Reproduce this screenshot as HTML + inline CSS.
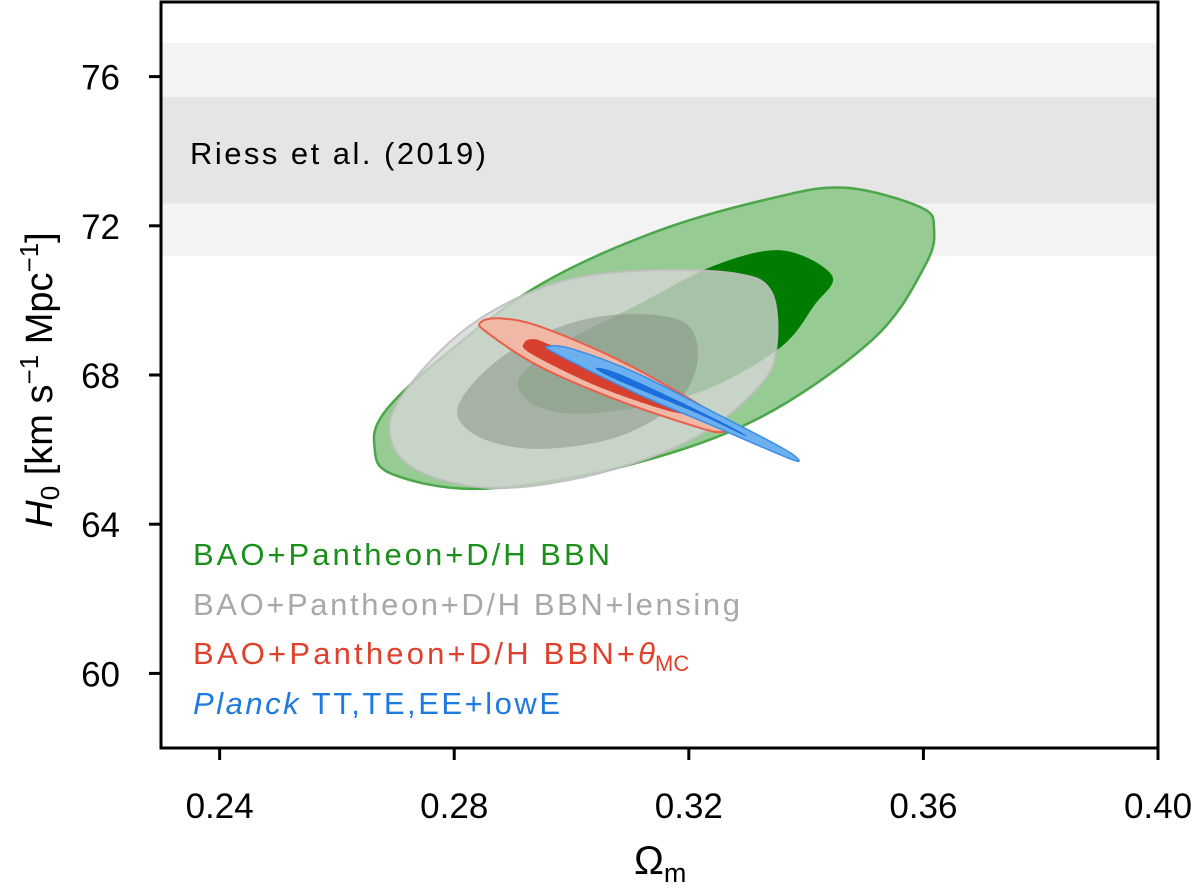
<!DOCTYPE html>
<html><head><meta charset="utf-8"><style>
body{margin:0;background:#fff;}
svg{display:block;font-family:"Liberation Sans","DejaVu Sans",sans-serif;}
</style></head><body>
<svg id="chart" width="1200" height="890" viewBox="0 0 1200 890" xmlns="http://www.w3.org/2000/svg" style="position:absolute;left:0;top:0">
<g id="bands"></g>
<g id="contours"></g>
<g id="axes"></g>
</svg>
<script>
// ---- data ----
const xTicks = [0.24, 0.28, 0.32, 0.36, 0.40];
const xTickLabels = ["0.24", "0.28", "0.32", "0.36", "0.40"];
const yTicks = [60, 64, 68, 72, 76];
const yTickLabels = ["60", "64", "68", "72", "76"];
const riessOuter = [71.2, 76.9];
const riessInner = [72.6, 75.45];

const greenOuterOm = [.2664,.2693,.2842,.3078,.3313,.3514,.3603,.3618,.3596,.3468,.3347,.3145,.2944,.2775,.2680];
const greenOuterH  = [66.07,65.35,64.95,65.51,66.79,68.96,70.94,71.93,72.49,73.02,72.76,71.85,70.40,68.42,66.98];
const greenInnerOm = [.3359,.3444,.3414,.3352,.3213,.3044,.2944,.2910,.2976,.3111,.3245];
const greenInnerH  = [71.34,70.67,69.87,68.69,67.51,66.98,67.14,67.86,68.77,69.87,70.94];
const grayOuterOm = [.2690,.2727,.2862,.3044,.3213,.3320,.3349,.3341,.3279,.3117,.2976,.2842,.2741];
const grayOuterH  = [66.69,65.54,64.97,65.35,66.34,67.70,68.69,70.22,70.72,70.80,70.48,69.49,68.05];
const grayInnerOm = [.2806,.2842,.2944,.3078,.3179,.3215,.3192,.3090,.2983,.2876];
const grayInnerH  = [67.14,66.34,66.02,66.34,67.25,68.42,69.41,69.63,69.31,68.42];
const redOuterOm = [.2845,.2855,.2944,.3078,.3213,.3255,.3262,.3213,.3078,.2944,.2876];
const redOuterH  = [69.41,69.15,68.24,67.33,66.61,66.47,66.66,67.25,68.42,69.31,69.52];
const redInnerOm = [.2920,.2930,.3044,.3172,.3186,.3078,.2962,.2937];
const redInnerH  = [68.88,68.58,67.70,67.01,67.14,68.05,68.82,68.96];
const blueOuterOm = [.2962,.2973,.3111,.3245,.3373,.3383,.3347,.3245,.3111,.3003];
const blueOuterH  = [68.77,68.58,67.51,66.61,65.75,65.80,66.15,66.98,68.05,68.69];
const blueInnerOm = [.3041,.3078,.3213,.3293,.3279,.3179,.3078];
const blueInnerH  = [68.18,67.86,66.98,66.39,66.55,67.33,68.05];

// ---- scales ----
const L=161, R=1158, T=2, B=748, XMIN=0.23, XMAX=0.40, YMIN=58, YMAX=78;
const sx = v => L + (v - XMIN) / (XMAX - XMIN) * (R - L);
const sy = v => B - (v - YMIN) / (YMAX - YMIN) * (B - T);
const NS = "http://www.w3.org/2000/svg";
function mk(tag, attrs, parent){const e=document.createElementNS(NS,tag);for(const k in attrs)e.setAttribute(k,attrs[k]);parent.appendChild(e);return e;}

const bands = document.getElementById('bands');
let b1 = mk('rect',{x:L,y:sy(riessOuter[1]),width:R-L,height:sy(riessOuter[0])-sy(riessOuter[1]),fill:'#f3f3f3'},bands);


let b2 = mk('rect',{x:L,y:sy(riessInner[1]),width:R-L,height:sy(riessInner[0])-sy(riessInner[1]),fill:'#e5e5e5'},bands);



function smoothPath(xs, ys){
  const p = xs.map((x,i)=>[sx(x), sy(ys[i])]); const n=p.length;
  let d = `M${p[0][0].toFixed(1)},${p[0][1].toFixed(1)}`;
  for(let i=0;i<n;i++){
    const p0=p[(i-1+n)%n],p1=p[i],p2=p[(i+1)%n],p3=p[(i+2)%n];
    const c1=[p1[0]+(p2[0]-p0[0])/6,p1[1]+(p2[1]-p0[1])/6];
    const c2=[p2[0]-(p3[0]-p1[0])/6,p2[1]-(p3[1]-p1[1])/6];
    d+=` C${c1[0].toFixed(1)},${c1[1].toFixed(1)} ${c2[0].toFixed(1)},${c2[1].toFixed(1)} ${p2[0].toFixed(1)},${p2[1].toFixed(1)}`;
  }
  return d+'Z';
}
const cg = document.getElementById('contours');
function contour(name, xs, ys, fill, stroke, sw){
  const e = mk('path',{d:smoothPath(xs,ys),fill:fill,stroke:stroke,'stroke-width':sw},cg);
  
  
}
contour('green-contour-2sigma', greenOuterOm, greenOuterH, '#96cb93', '#4ca64a', 2.5);
contour('green-contour-1sigma', greenInnerOm, greenInnerH, '#007d00', 'none', 0);
contour('gray-contour-2sigma', grayOuterOm, grayOuterH, 'rgba(214,214,214,0.78)', 'rgba(190,190,190,0.9)', 2);
contour('gray-contour-1sigma', grayInnerOm, grayInnerH, 'rgba(120,130,120,0.42)', 'none', 0);
contour('red-contour-2sigma', redOuterOm, redOuterH, '#f2b8a6', '#e8604a', 2);
contour('red-contour-1sigma', redInnerOm, redInnerH, '#d7402e', 'none', 0);
contour('blue-contour-2sigma', blueOuterOm, blueOuterH, '#6db0f0', '#3a8ee8', 1.5);
contour('blue-contour-1sigma', blueInnerOm, blueInnerH, '#1b6fdc', 'none', 0);

const ax = document.getElementById('axes');
let frame = mk('rect',{x:L,y:T,width:R-L,height:B-T,fill:'none',stroke:'#000','stroke-width':3},ax);


xTicks.forEach((v,i)=>{
  const t = mk('line',{x1:sx(v),x2:sx(v),y1:B,y2:B+12,stroke:'#000','stroke-width':3},ax);
  
  
  const lb = mk('text',{x:sx(v),y:B+70,'font-size':35,'text-anchor':'middle',fill:'#000'},ax);
  lb.textContent = xTickLabels[i];
  
  
});
yTicks.forEach((v,i)=>{
  const t = mk('line',{x1:L-12,x2:L,y1:sy(v),y2:sy(v),stroke:'#000','stroke-width':3},ax);
  
  
  const lb = mk('text',{x:120,y:sy(v)+13,'font-size':35,'text-anchor':'end',fill:'#000'},ax);
  lb.textContent = yTickLabels[i];
  
  
});
</script>
<svg width="1200" height="890" style="position:absolute;left:0;top:0" xmlns="http://www.w3.org/2000/svg" font-family="Liberation Sans, DejaVu Sans, sans-serif">
<text x="190" y="164" font-size="31" textLength="296" fill="#000">Riess et al. (2019)</text>
<text x="193" y="565" font-size="31" textLength="417" fill="#1a8f1a">BAO+Pantheon+D/H BBN</text>
<text x="193" y="615" font-size="31" textLength="547" fill="#a8a8a8">BAO+Pantheon+D/H BBN+lensing</text>
<text x="193" y="664" font-size="31" fill="#e0402c"><tspan textLength="442">BAO+Pantheon+D/H BBN+</tspan><tspan font-style="italic">θ</tspan><tspan font-size="22" dy="7">MC</tspan></text>
<text x="193" y="714" font-size="31" textLength="367" fill="#1f7ae0"><tspan font-style="italic">Planck</tspan> TT,TE,EE+lowE</text>
<text x="634" y="874" font-size="40" fill="#000">Ω<tspan font-size="27" dy="8">m</tspan></text>
<text transform="translate(52,380) rotate(-90)" text-anchor="middle" font-size="38" fill="#000"><tspan font-style="italic">H</tspan><tspan font-size="26" dy="7">0</tspan><tspan dy="-7"> [km s</tspan><tspan font-size="26" dy="-14">−1</tspan><tspan dy="14"> Mpc</tspan><tspan font-size="26" dy="-14">−1</tspan><tspan dy="14">]</tspan></text>
</svg>
</body></html>
